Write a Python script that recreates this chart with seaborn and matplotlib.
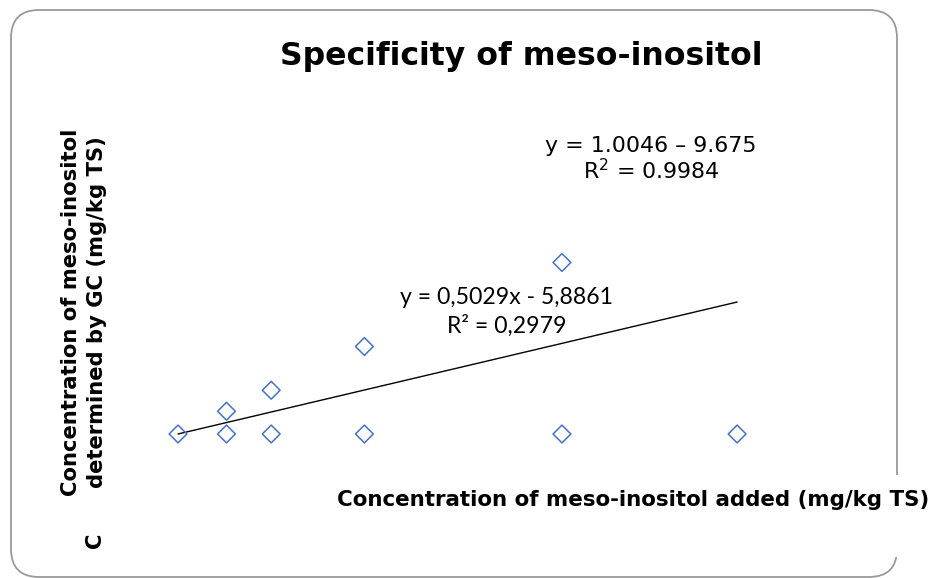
import numpy as np
import pandas as pd
import matplotlib
matplotlib.use('Agg')
import matplotlib.pyplot as plt
import seaborn as sns
from matplotlib.patches import FancyBboxPatch, Rectangle

# concentration added vs. determined by GC (mg/kg TS)
added = [0, 13, 13, 25, 25, 50, 50, 103, 103, 150]
found = [0, 0, 13, 0, 25, 0, 50, 0, 98, 0]

# trendline as drawn in the chart
trend_x = [0, 150]
trend_y = [0, 75.4]

eq_linear = 'y = 0,5029x - 5,8861\nR² = 0,2979'
eq_other = 'y = 1.0046 \u2013 9.675\nR$^2$ = 0.9984'

W, H = 936, 578
def fx(px):
    return px / W
def fy(py):
    return 1 - py / H

sns.set_style('white')
plt.rcParams['font.family'] = ['DejaVu Sans']
plt.rcParams['text.color'] = 'black'

fig = plt.figure(figsize=(9.36, 5.78), dpi=100)

# rounded frame around the chart
frame = FancyBboxPatch((fx(11), fy(577)), fx(897) - fx(11), fy(10) - fy(577),
                       boxstyle='round,pad=0,rounding_size=0.03',
                       transform=fig.transFigure, facecolor='white',
                       edgecolor='#9a9a9a', linewidth=1.3, mutation_aspect=W / H,
                       zorder=-2)
fig.patches.append(frame)
fig.patches.append(Rectangle((fx(880), fy(557)), fx(936) - fx(880), fy(475) - fy(557),
                             transform=fig.transFigure, facecolor='white',
                             edgecolor='none', zorder=-1))

ax = fig.add_axes([fx(140), fy(460), fx(780) - fx(140), fy(120) - fy(460)])
ax.set_zorder(2)
ax.patch.set_alpha(0)

df = pd.DataFrame({'added': added, 'found': found})
sns.scatterplot(data=df, x='added', y='found', ax=ax, marker='D', s=82,
                facecolor='none', edgecolor='#4472C4', linewidth=1.1, zorder=3)
ax.plot(trend_x, trend_y, color='black', linewidth=1.0, zorder=2)

ax.set_xlim(-10.2, 161.5)
ax.set_ylim(-14.86, 179.4)
ax.set_xticks([])
ax.set_yticks([])
ax.set_xlabel('')
ax.set_ylabel('')
for s in ax.spines.values():
    s.set_visible(False)

fig.text(fx(521), fy(56), 'Specificity of meso-inositol', ha='center', va='center',
         fontsize=22.7, fontweight='bold')

fig.text(fx(84), fy(312), 'Concentration of meso-inositol\ndetermined by GC (mg/kg TS)',
         rotation=90, ha='center', va='center', multialignment='center',
         fontsize=15.2, fontweight='bold', linespacing=1.35)
fig.text(fx(95), fy(540), 'C', rotation=90, ha='center', va='center',
         fontsize=15.2, fontweight='bold')

fig.text(fx(633), fy(500), 'Concentration of meso-inositol added (mg/kg TS)',
         ha='center', va='center', fontsize=15.4, fontweight='bold')

fig.text(fx(651), fy(160), eq_other, ha='center', va='center',
         multialignment='center', fontsize=15.9, linespacing=1.1)

fig.text(fx(507), fy(312), eq_linear, ha='center', va='center',
         multialignment='center', fontsize=16.6, family=['Lato', 'DejaVu Sans'],
         linespacing=1.4)

fig.savefig('out.png', dpi=100)
